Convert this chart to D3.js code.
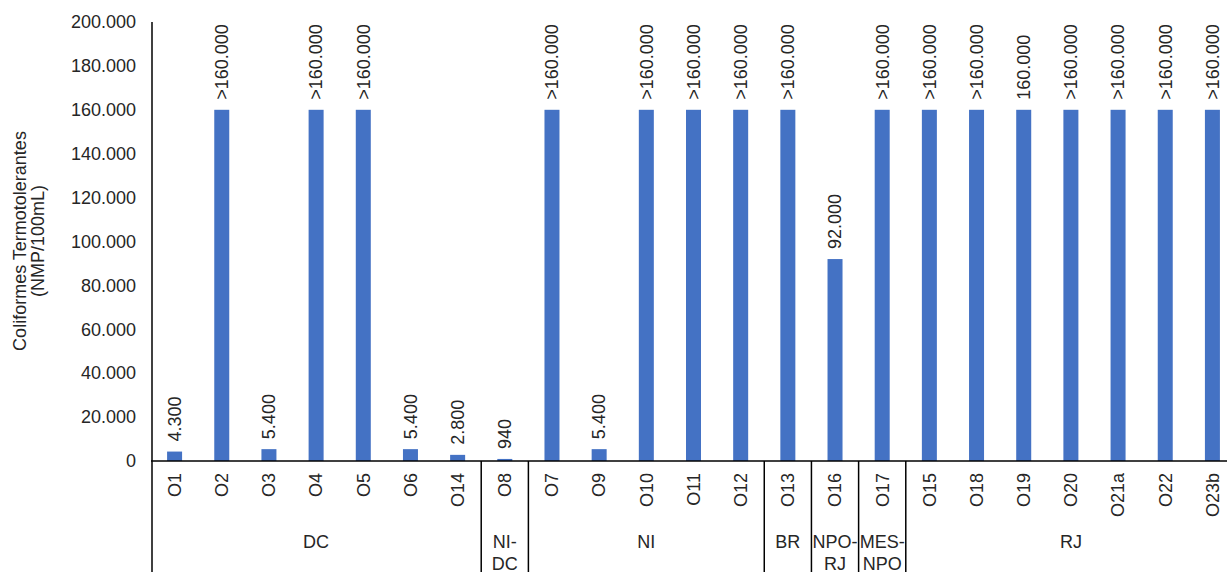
<!DOCTYPE html>
<html>
<head>
<meta charset="utf-8">
<script src="https://cdn.jsdelivr.net/npm/d3@7"></script>
<style>
  html, body { margin: 0; padding: 0; background: #fff; }
  svg { display: block; font-family: Arial, "Liberation Sans", sans-serif; }
</style>
</head>
<body>
<svg id="chart" width="1227" height="572"></svg>
<script>
// ---- data ----
const categories = ["O1","O2","O3","O4","O5","O6","O14","O8","O7","O9","O10","O11","O12","O13","O16","O17","O15","O18","O19","O20","O21a","O22","O23b"];
const values = [4300,160000,5400,160000,160000,5400,2800,940,160000,5400,160000,160000,160000,160000,92000,160000,160000,160000,160000,160000,160000,160000,160000];
const valueLabels = ["4.300",">160.000","5.400",">160.000",">160.000","5.400","2.800","940",">160.000","5.400",">160.000",">160.000",">160.000",">160.000","92.000",">160.000",">160.000",">160.000","160.000",">160.000",">160.000",">160.000",">160.000"];
const groupNames = [["DC"],["NI-","DC"],["NI"],["BR"],["NPO-","RJ"],["MES-","NPO"],["RJ"]];
const groupSizes = [7,1,5,1,1,1,7];
const yTicks = [0,20000,40000,60000,80000,100000,120000,140000,160000,180000,200000];
const yTitle = ["Coliformes Termotolerantes","(NMP/100mL)"];

// ---- layout ----
const svg = d3.select("#chart");
const x0 = 151, x1 = 1236, yTop = 22, yBase = 461, bottom = 572;
const textColor = "#262626";
const fs = 18;

const slot = d3.scaleBand().domain(categories).range([x0, x1]).padding(0);
const band = d3.scaleBand().domain(categories).range([x0, x1]).paddingInner(0.682).paddingOuter(0.341);
const y = d3.scaleLinear().domain([0, 200000]).range([yBase, yTop]);

const fmt = v => d3.format(",")(v).replace(/,/g, ".");

// bars
svg.append("g").selectAll("rect").data(categories).join("rect")
  .attr("x", d => band(d))
  .attr("width", band.bandwidth())
  .attr("y", (d,i) => y(values[i]))
  .attr("height", (d,i) => yBase - y(values[i]))
  .attr("fill", "#4472C4");

// data labels
svg.append("g").selectAll("text").data(categories).join("text")
  .attr("transform", (d,i) => `translate(${band(d) + band.bandwidth()/2},${y(values[i]) - 10}) rotate(-90)`)
  .attr("dy", "0.35em")
  .attr("text-anchor", "start")
  .attr("font-size", fs)
  .attr("fill", textColor)
  .text((d,i) => valueLabels[i]);

// y axis
const yAxis = d3.axisLeft(y).tickValues(yTicks).tickSize(0).tickPadding(16).tickFormat(fmt);
const gy = svg.append("g").attr("transform", `translate(${x0 + 1},0)`).call(yAxis);
gy.select(".domain").remove();
gy.selectAll("text").attr("font-size", fs).attr("fill", textColor).attr("font-family", "Arial, 'Liberation Sans', sans-serif");

// y axis line (extends through category area)
svg.append("line").attr("x1", x0 + 1).attr("x2", x0 + 1).attr("y1", yTop).attr("y2", bottom)
  .attr("stroke", "#000").attr("stroke-width", 1.5);

// x axis baseline
svg.append("line").attr("x1", x0).attr("x2", x1).attr("y1", yBase).attr("y2", yBase)
  .attr("stroke", "#000").attr("stroke-width", 1.5);

// category labels
const xAxis = d3.axisBottom(slot).tickSize(0).tickPadding(0);
const gx = svg.append("g").attr("transform", `translate(0,${yBase})`).call(xAxis);
gx.select(".domain").remove();
gx.selectAll("text")
  .attr("font-size", fs).attr("fill", textColor).attr("font-family", "Arial, 'Liberation Sans', sans-serif")
  .attr("text-anchor", "end")
  .attr("transform", "translate(0,12) rotate(-90)")
  .attr("x", 0).attr("y", 0).attr("dy", "0.35em");

// groups
let start = 0;
const groups = groupSizes.map((n, gi) => {
  const g = { names: groupNames[gi], first: categories[start], last: categories[start + n - 1] };
  start += n;
  return g;
});
groups.forEach((g, gi) => {
  const gx0 = slot(g.first), gx1 = slot(g.last) + slot.bandwidth();
  if (gi > 0) {
    svg.append("line").attr("x1", gx0).attr("x2", gx0).attr("y1", yBase).attr("y2", bottom)
      .attr("stroke", "#000").attr("stroke-width", 1.5);
  }
  const t = svg.append("text").attr("text-anchor", "middle").attr("font-size", fs).attr("fill", textColor);
  g.names.forEach((nm, li) => {
    t.append("tspan").attr("x", (gx0 + gx1) / 2).attr("y", 548 + li * 22).text(nm);
  });
});

// y title
const tt = svg.append("text").attr("transform", "translate(20,241) rotate(-90)")
  .attr("text-anchor", "middle").attr("font-size", fs).attr("fill", textColor);
tt.append("tspan").attr("x", 0).attr("y", 0).attr("dy", "0.35em").text(yTitle[0]);
tt.append("tspan").attr("x", 0).attr("y", 18).attr("dy", "0.35em").text(yTitle[1]);
</script>
</body>
</html>
